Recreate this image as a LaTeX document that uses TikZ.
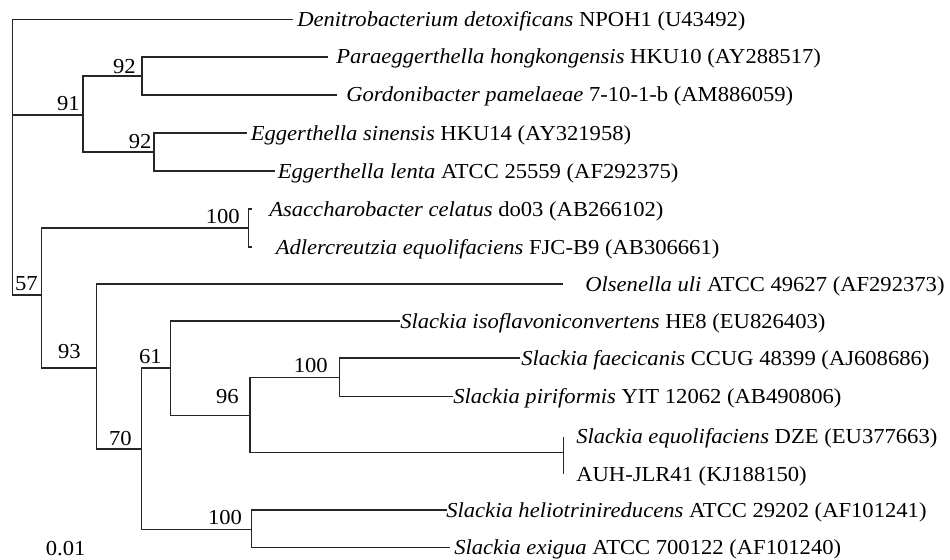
\documentclass[tikz,border=0pt]{standalone}
\usepackage{fontspec}
\setmainfont{Liberation Serif}[FakeStretch=1.06]
\begin{document}
\begin{tikzpicture}[x=0.75pt,y=-0.75pt,
  br/.style={line width=0.9pt, draw=black!85},
  leaf/.style={anchor=base west, inner sep=0pt, font=\fontsize{16pt}{19pt}\selectfont},
  boot/.style={anchor=base east, inner sep=0pt, font=\fontsize{16pt}{19pt}\selectfont}]
\useasboundingbox (0,0) rectangle (950,560);
% internal nodes
\coordinate (root) at (12.7,115);
\coordinate (n91) at (83,115);
\coordinate (n92a) at (142,76);
\coordinate (n92b) at (154,152);
\coordinate (n57) at (41.7,295);
\coordinate (n100a) at (248.3,228);
\coordinate (n93) at (96.7,368);
\coordinate (n70) at (141.7,449);
\coordinate (n61) at (170.7,368);
\coordinate (n96) at (250,415.7);
\coordinate (n100b) at (339.3,377.7);
\coordinate (nEq) at (563.3,452.3);
\coordinate (n100c) at (251.7,529.7);
% tips
\coordinate (t1) at (293.3,19.5);
\coordinate (t2) at (328.3,57);
\coordinate (t3) at (336.7,95);
\coordinate (t4) at (246.7,133);
\coordinate (t5) at (275,171);
\coordinate (t6) at (251.7,209);
\coordinate (t7) at (251.7,247);
\coordinate (t8) at (563,284);
\coordinate (t9) at (400,321);
\coordinate (t10) at (520,358);
\coordinate (t11) at (453,396.7);
\coordinate (t12) at (563.3,436.7);
\coordinate (t13) at (563.3,474.3);
\coordinate (t14) at (446.7,510);
\coordinate (t15) at (450,547.7);
% branches
\draw[br] (root) |- (t1);
\draw[br] (root) -- (n91);
\draw[br] (root) |- (n57);
\draw[br] (n91) |- (n92a);
\draw[br] (n91) |- (n92b);
\draw[br] (n92a) |- (t2);
\draw[br] (n92a) |- (t3);
\draw[br] (n92b) |- (t4);
\draw[br] (n92b) |- (t5);
\draw[br] (n57) |- (n100a);
\draw[br] (n57) |- (n93);
\draw[br] (n100a) |- (t6);
\draw[br] (n100a) |- (t7);
\draw[br] (n93) |- (t8);
\draw[br] (n93) |- (n70);
\draw[br] (n70) |- (n61);
\draw[br] (n70) |- (n100c);
\draw[br] (n61) |- (t9);
\draw[br] (n61) |- (n96);
\draw[br] (n96) |- (n100b);
\draw[br] (n96) |- (nEq);
\draw[br] (n100b) |- (t10);
\draw[br] (n100b) |- (t11);
\draw[br] (nEq) -- (t12);
\draw[br] (nEq) -- (t13);
\draw[br] (n100c) |- (t14);
\draw[br] (n100c) |- (t15);
% leaf labels
\node[leaf] (L1) at (297,26.5) {\textit{Denitrobacterium detoxificans} NPOH1 (U43492)};
\node[leaf] (L2) at (336,64) {\textit{Paraeggerthella hongkongensis} HKU10 (AY288517)};
\node[leaf] (L3) at (346,102) {\textit{Gordonibacter pamelaeae} 7-10-1-b (AM886059)};
\node[leaf] (L4) at (250.5,140) {\textit{Eggerthella sinensis} HKU14 (AY321958)};
\node[leaf] (L5) at (277.5,178) {\textit{Eggerthella lenta} ATCC 25559 (AF292375)};
\node[leaf] (L6) at (269,216) {\textit{Asaccharobacter celatus} do03 (AB266102)};
\node[leaf] (L7) at (275.5,254) {\textit{Adlercreutzia equolifaciens} FJC-B9 (AB306661)};
\node[leaf] (L8) at (585,291) {\textit{Olsenella uli} ATCC 49627 (AF292373)};
\node[leaf] (L9) at (400,328) {\textit{Slackia isoflavoniconvertens} HE8 (EU826403)};
\node[leaf] (L10) at (521,365) {\textit{Slackia faecicanis} CCUG 48399 (AJ608686)};
\node[leaf] (L11) at (453,403.7) {\textit{Slackia piriformis} YIT 12062 (AB490806)};
\node[leaf] (L12) at (576,443.7) {\textit{Slackia equolifaciens} DZE (EU377663)};
\node[leaf] (L13) at (576,481.3) {AUH-JLR41 (KJ188150)};
\node[leaf] (L14) at (446,517) {\textit{Slackia heliotrinireducens} ATCC 29202 (AF101241)};
\node[leaf] (L15) at (454,554.5) {\textit{Slackia exigua} ATCC 700122 (AF101240)};
% bootstrap values
\node[boot] (b91) at (80,111) {91};
\node[boot] (b92a) at (136,74) {92};
\node[boot] (b92b) at (151.7,148) {92};
\node[boot] (b57) at (38,290) {57};
\node[boot] (b100a) at (240,223.6) {100};
\node[boot] (b93) at (81,358) {93};
\node[boot] (b70) at (132,445) {70};
\node[boot] (b61) at (162,363.7) {61};
\node[boot] (b96) at (239,403.7) {96};
\node[boot] (b100b) at (328,372) {100};
\node[boot] (b100c) at (242.3,524) {100};
\node[boot] (scale) at (85.7,555) {0.01};
\end{tikzpicture}
\end{document}
